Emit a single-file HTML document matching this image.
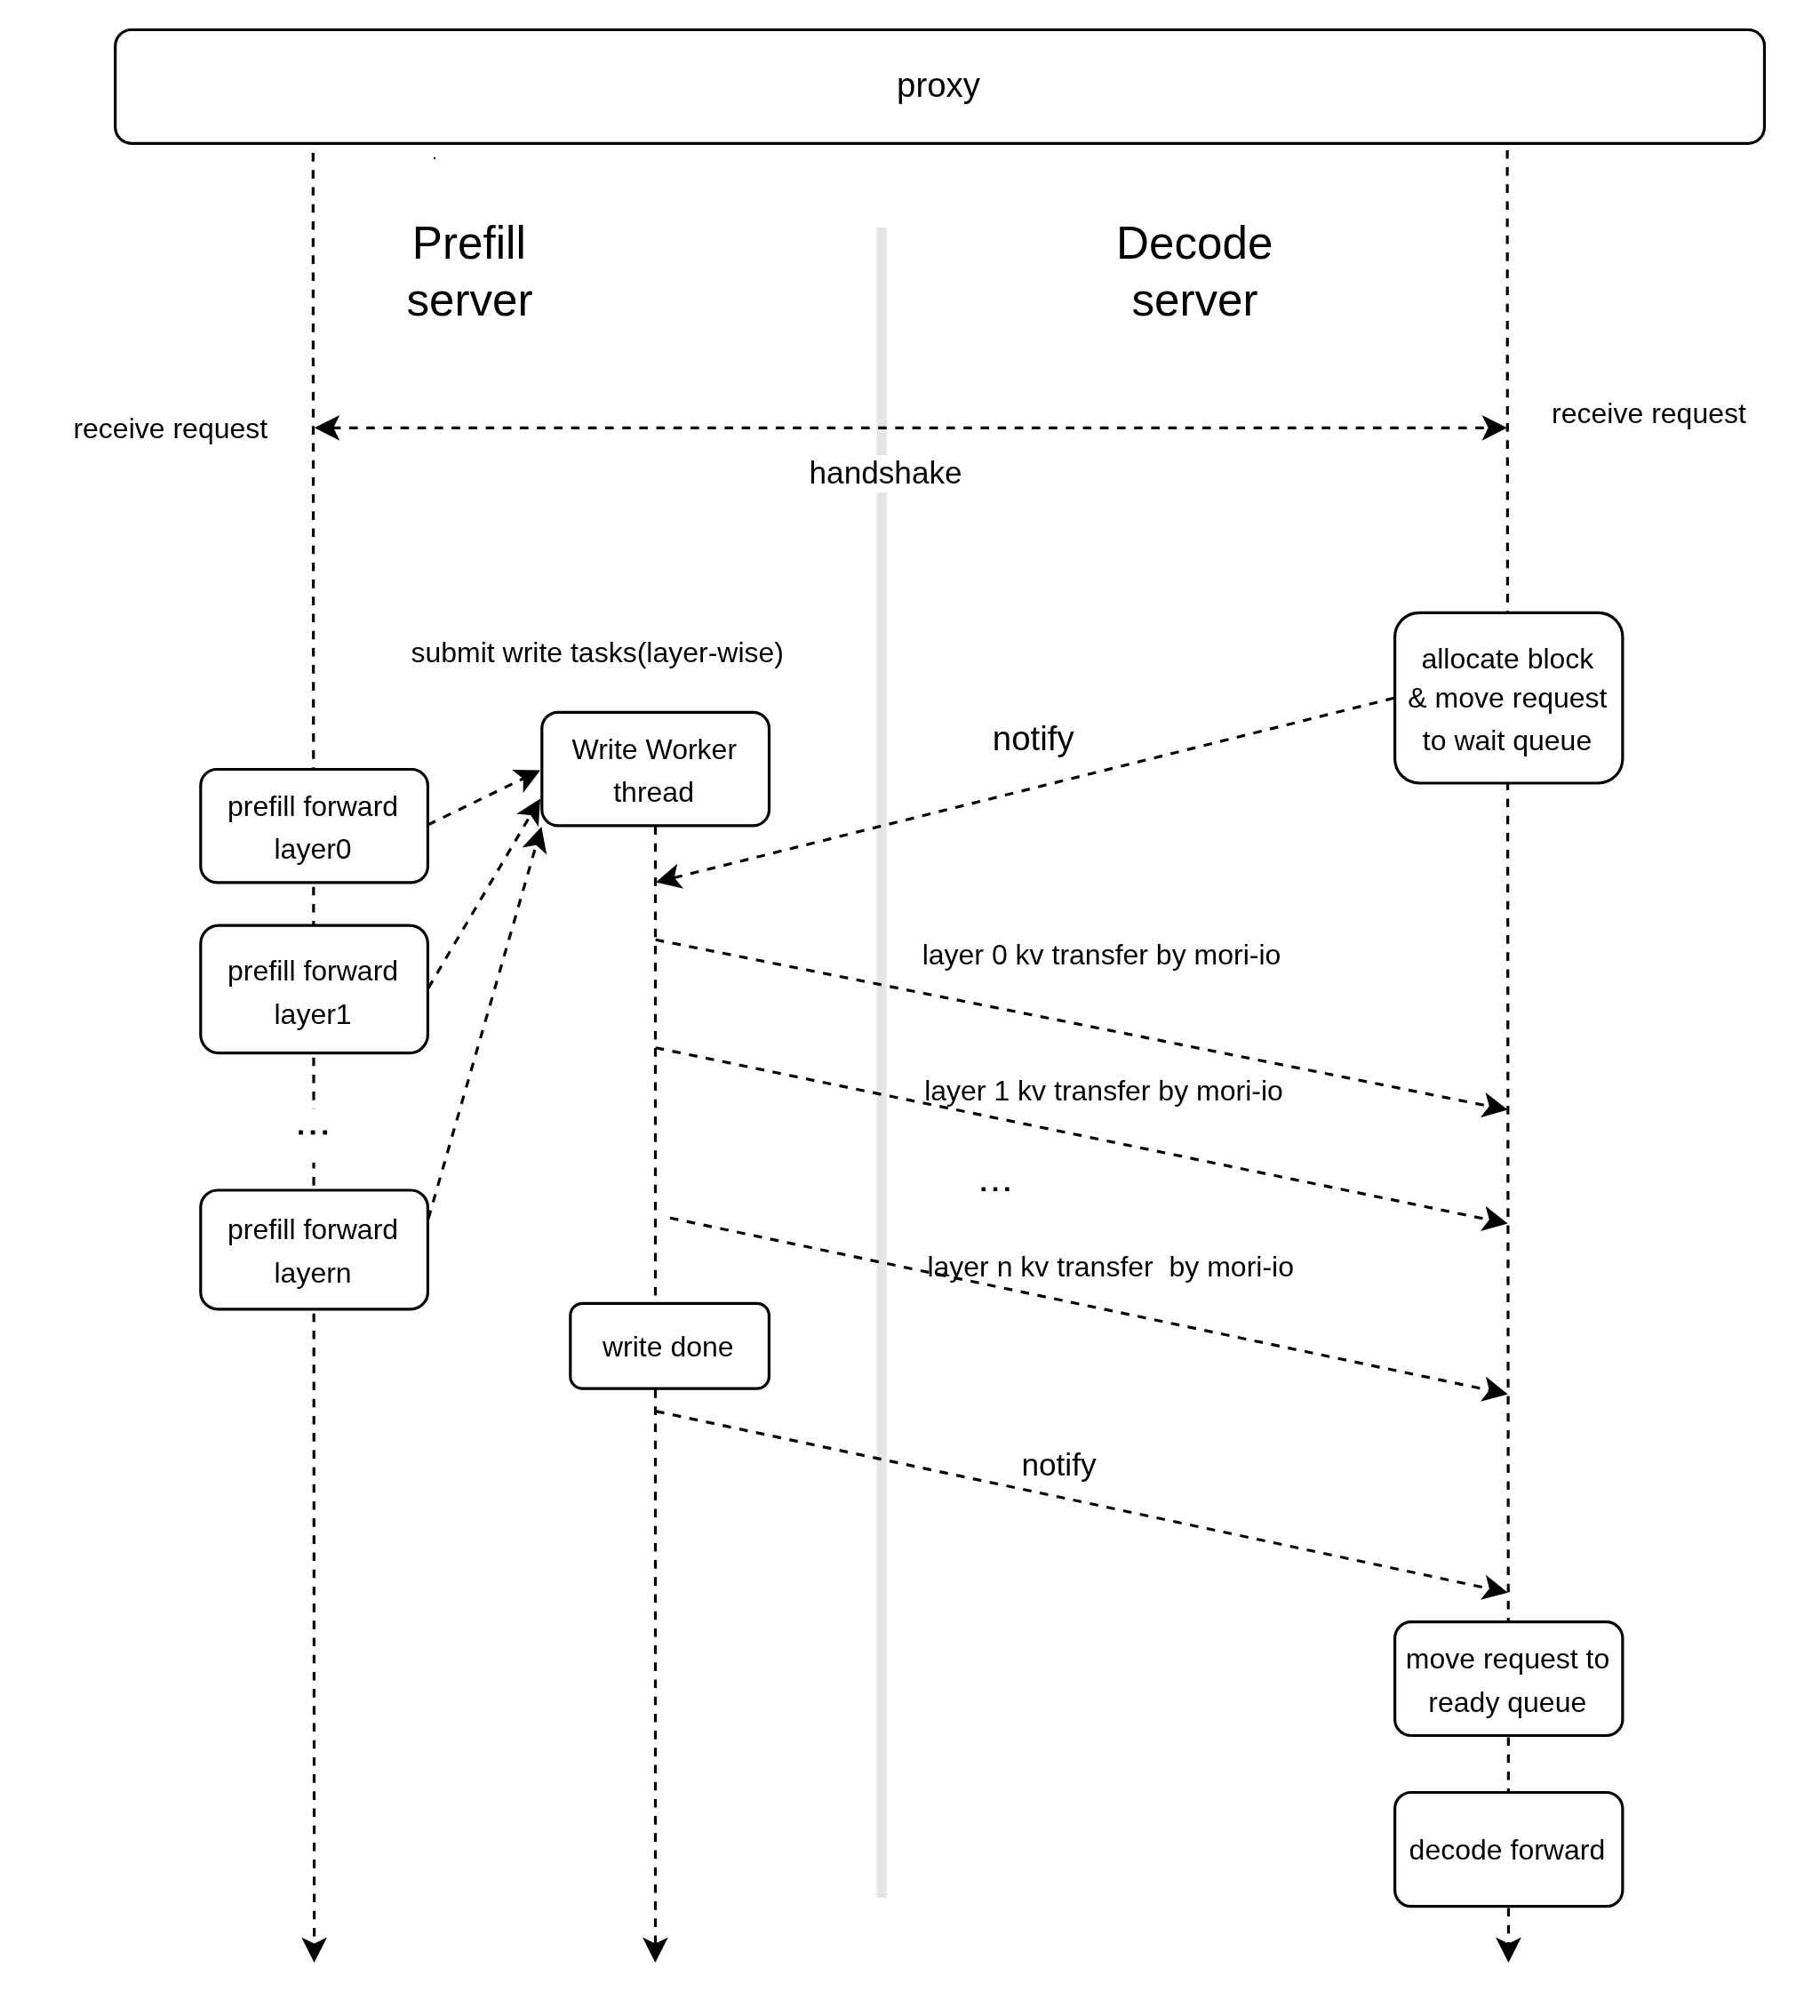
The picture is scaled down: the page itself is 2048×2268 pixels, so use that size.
<!DOCTYPE html>
<html><head><meta charset="utf-8"><style>
html,body{margin:0;padding:0;background:#fff;}
body{width:2048px;height:2268px;overflow:hidden;}
svg{display:block;will-change:transform;}
text{font-family:"Liberation Sans", sans-serif;fill:#000;}
</style></head><body>
<svg width="2048" height="2268" viewBox="0 0 2048 2268">
<rect width="2048" height="2268" fill="#fff"/>
<rect x="985" y="256" width="14" height="1879" fill="#f6f6f6"/>
<rect x="987" y="256" width="10" height="1879" fill="#e4e4e4"/>
<rect x="997" y="256" width="1" height="1879" fill="#efefef"/>
<line x1="352.3" y1="172.1" x2="353.6" y2="2188" stroke="#000" stroke-width="3.2" stroke-dasharray="9.6 9.6"/>
<path d="M353.60,2208.00 L339.20,2179.50 L353.60,2186.62 L368.00,2179.50 Z" fill="#000"/>
<line x1="737.50" y1="929.50" x2="737.50" y2="2188.00" stroke="#000" stroke-width="3.2" stroke-dasharray="9.6 9.6" stroke-dashoffset="0"/>
<path d="M737.40,2208.00 L723.00,2179.50 L737.40,2186.62 L751.80,2179.50 Z" fill="#000"/>
<line x1="1696.1" y1="168.9" x2="1697.5" y2="2188" stroke="#000" stroke-width="3.2" stroke-dasharray="9.6 9.6"/>
<path d="M1697.50,2208.00 L1683.10,2179.50 L1697.50,2186.62 L1711.90,2179.50 Z" fill="#000"/>
<rect x="326" y="1247.4" width="54" height="60.5" fill="#fff"/>
<rect x="129.70" y="33.50" width="1855.80" height="127.80" rx="18.28" ry="18.28" fill="#fff" stroke="#000" stroke-width="3.2"/>
<text x="1056.00" y="108.60" font-size="38.4" text-anchor="middle" xml:space="preserve">proxy</text>
<rect x="488" y="177" width="2" height="2" fill="#000"/>
<text x="527.80" y="290.80" font-size="51.2" text-anchor="middle" xml:space="preserve">Prefill</text>
<text x="528.50" y="354.80" font-size="51.2" text-anchor="middle" xml:space="preserve">server</text>
<text x="1344.20" y="291.20" font-size="51.2" text-anchor="middle" xml:space="preserve">Decode</text>
<text x="1344.50" y="354.80" font-size="51.2" text-anchor="middle" xml:space="preserve">server</text>
<text x="191.80" y="492.60" font-size="32" text-anchor="middle" xml:space="preserve">receive request</text>
<text x="1855.50" y="476.10" font-size="32" text-anchor="middle" xml:space="preserve">receive request</text>
<line x1="373.80" y1="481.30" x2="1676.00" y2="481.30" stroke="#000" stroke-width="3.2" stroke-dasharray="9.6 9.6" stroke-dashoffset="0"/>
<path d="M1696.00,481.30 L1667.50,495.70 L1674.62,481.30 L1667.50,466.90 Z" fill="#000"/>
<path d="M353.80,481.30 L382.30,466.90 L375.18,481.30 L382.30,495.70 Z" fill="#000"/>
<rect x="906" y="512" width="182" height="42" fill="#fff"/>
<text x="996.60" y="544.20" font-size="35.2" text-anchor="middle" xml:space="preserve">handshake</text>
<text x="672.20" y="745.20" font-size="32" text-anchor="middle" xml:space="preserve">submit write tasks(layer-wise)</text>
<rect x="609.80" y="801.30" width="255.70" height="127.60" rx="18.25" ry="18.25" fill="#fff" stroke="#000" stroke-width="3.2"/>
<text x="736.30" y="854.20" font-size="32" text-anchor="middle" xml:space="preserve">Write Worker</text>
<text x="735.60" y="902.00" font-size="32" text-anchor="middle" xml:space="preserve">thread</text>
<rect x="1569.60" y="689.40" width="256.30" height="191.60" rx="27.40" ry="27.40" fill="#fff" stroke="#000" stroke-width="3.2"/>
<text x="1696.40" y="751.60" font-size="32" text-anchor="middle" xml:space="preserve">allocate block</text>
<text x="1696.40" y="796.25" font-size="32" text-anchor="middle" xml:space="preserve">&amp; move request</text>
<text x="1696.00" y="844.20" font-size="32" text-anchor="middle" xml:space="preserve">to wait queue</text>
<text x="1162.70" y="844.20" font-size="38.4" text-anchor="middle" xml:space="preserve">notify</text>
<line x1="1568.70" y1="785.30" x2="757.40" y2="987.76" stroke="#000" stroke-width="3.2" stroke-dasharray="9.6 9.6" stroke-dashoffset="0"/>
<path d="M738.00,992.60 L762.17,971.73 L758.74,987.42 L769.14,999.67 Z" fill="#000"/>
<rect x="225.80" y="865.50" width="255.60" height="127.30" rx="18.20" ry="18.20" fill="#fff" stroke="#000" stroke-width="3.2"/>
<text x="352.05" y="918.20" font-size="32" text-anchor="middle" xml:space="preserve">prefill forward</text>
<text x="352.05" y="966.30" font-size="32" text-anchor="middle" xml:space="preserve">layer0</text>
<rect x="225.80" y="1041.20" width="255.60" height="143.40" rx="20.51" ry="20.51" fill="#fff" stroke="#000" stroke-width="3.2"/>
<text x="352.05" y="1103.30" font-size="32" text-anchor="middle" xml:space="preserve">prefill forward</text>
<text x="352.05" y="1151.90" font-size="32" text-anchor="middle" xml:space="preserve">layer1</text>
<rect x="225.80" y="1339.00" width="255.60" height="133.80" rx="19.13" ry="19.13" fill="#fff" stroke="#000" stroke-width="3.2"/>
<text x="352.05" y="1394.40" font-size="32" text-anchor="middle" xml:space="preserve">prefill forward</text>
<text x="352.05" y="1442.50" font-size="32" text-anchor="middle" xml:space="preserve">layern</text>
<rect x="336.2" y="1271.6" width="4.8" height="4.8" fill="#000"/>
<rect x="349.7" y="1271.6" width="4.8" height="4.8" fill="#000"/>
<rect x="363.3" y="1271.6" width="4.8" height="4.8" fill="#000"/>
<rect x="1104.5" y="1335.6" width="4.5" height="4.5" fill="#000"/>
<rect x="1117.8" y="1335.6" width="4.5" height="4.5" fill="#000"/>
<rect x="1131.1" y="1335.6" width="4.5" height="4.5" fill="#000"/>
<line x1="481.40" y1="928.00" x2="590.00" y2="875.33" stroke="#000" stroke-width="3.2" stroke-dasharray="9.6 9.6" stroke-dashoffset="0"/>
<path d="M608.00,866.60 L588.64,891.99 L588.77,875.93 L576.07,866.08 Z" fill="#000"/>
<line x1="482.00" y1="1111.60" x2="597.82" y2="915.72" stroke="#000" stroke-width="3.2" stroke-dasharray="9.6 9.6" stroke-dashoffset="0"/>
<path d="M608.00,898.50 L605.89,930.36 L597.12,916.90 L581.10,915.70 Z" fill="#000"/>
<line x1="482.00" y1="1371.00" x2="603.75" y2="949.32" stroke="#000" stroke-width="3.2" stroke-dasharray="9.6 9.6" stroke-dashoffset="0"/>
<path d="M609.30,930.10 L615.23,961.48 L603.37,950.64 L587.56,953.49 Z" fill="#000"/>
<line x1="737.70" y1="1057.20" x2="1677.09" y2="1244.69" stroke="#000" stroke-width="3.2" stroke-dasharray="9.6 9.6" stroke-dashoffset="0"/>
<path d="M1696.70,1248.60 L1665.93,1257.14 L1675.74,1244.42 L1671.57,1228.90 Z" fill="#000"/>
<line x1="737.70" y1="1178.70" x2="1677.11" y2="1372.56" stroke="#000" stroke-width="3.2" stroke-dasharray="9.6 9.6" stroke-dashoffset="0"/>
<path d="M1696.70,1376.60 L1665.88,1384.94 L1675.77,1372.28 L1671.70,1356.74 Z" fill="#000"/>
<line x1="754.00" y1="1370.20" x2="1677.23" y2="1564.29" stroke="#000" stroke-width="3.2" stroke-dasharray="9.6 9.6" stroke-dashoffset="0"/>
<path d="M1696.80,1568.40 L1665.95,1576.63 L1675.88,1564.00 L1671.87,1548.44 Z" fill="#000"/>
<text x="1239.50" y="1084.50" font-size="32" text-anchor="middle" xml:space="preserve">layer 0 kv transfer by mori-io</text>
<text x="1242.00" y="1237.60" font-size="32" text-anchor="middle" xml:space="preserve">layer 1 kv transfer by mori-io</text>
<text x="1249.70" y="1435.70" font-size="32" text-anchor="middle" xml:space="preserve">layer n kv transfer  by mori-io</text>
<rect x="641.80" y="1466.40" width="223.60" height="95.70" rx="13.69" ry="13.69" fill="#fff" stroke="#000" stroke-width="3.2"/>
<text x="751.80" y="1525.70" font-size="32" text-anchor="middle" xml:space="preserve">write done</text>
<line x1="738.10" y1="1587.60" x2="1677.24" y2="1787.54" stroke="#000" stroke-width="3.2" stroke-dasharray="9.6 9.6" stroke-dashoffset="0"/>
<path d="M1696.80,1791.70 L1665.93,1799.85 L1675.89,1787.25 L1671.92,1771.68 Z" fill="#000"/>
<text x="1191.50" y="1659.80" font-size="35.2" text-anchor="middle" xml:space="preserve">notify</text>
<rect x="1569.60" y="1824.70" width="256.30" height="127.80" rx="18.28" ry="18.28" fill="#fff" stroke="#000" stroke-width="3.2"/>
<text x="1696.50" y="1877.10" font-size="32" text-anchor="middle" xml:space="preserve">move request to</text>
<text x="1696.30" y="1925.60" font-size="32" text-anchor="middle" xml:space="preserve">ready queue</text>
<rect x="1569.60" y="2016.50" width="256.30" height="128.20" rx="18.33" ry="18.33" fill="#fff" stroke="#000" stroke-width="3.2"/>
<text x="1695.90" y="2091.50" font-size="32" text-anchor="middle" xml:space="preserve">decode forward</text>
</svg>
</body></html>
